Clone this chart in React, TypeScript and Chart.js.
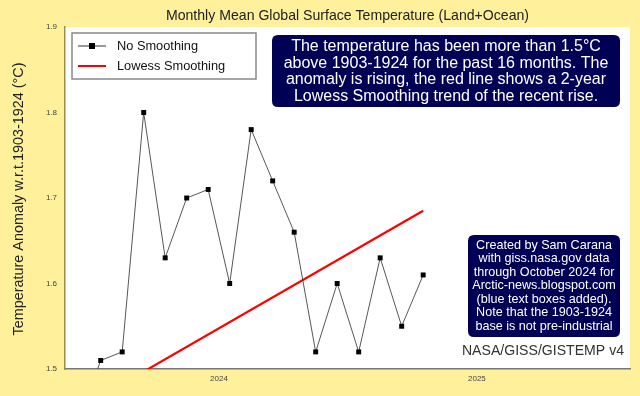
import React, { useEffect, useRef } from "react";
import { Chart, registerables } from "chart.js";

Chart.register(...registerables);

// months since Jan 1 2024 (mid-month positions), Jun 2023 .. Oct 2024
const months = ["2023-06", "2023-07", "2023-08", "2023-09", "2023-10", "2023-11", "2023-12", "2024-01", "2024-02", "2024-03", "2024-04", "2024-05", "2024-06", "2024-07", "2024-08", "2024-09", "2024-10"];
const monthPos = [-6.5, -5.5, -4.5, -3.5, -2.5, -1.5, -0.5, 0.5, 1.5, 2.5, 3.5, 4.5, 5.5, 6.5, 7.5, 8.5, 9.5];
const anomalies = [1.44, 1.51, 1.52, 1.80, 1.63, 1.70, 1.71, 1.60, 1.78, 1.72, 1.66, 1.52, 1.60, 1.52, 1.63, 1.55, 1.61];
const lowessPos = [-5.5, 9.5];
const lowessValues = [1.468, 1.685];
const yearTicks = [0, 12];
const yearLabels = ["2024", "2025"];

const titleText = "Monthly Mean Global Surface Temperature (Land+Ocean)";
const yTitle = "Temperature Anomaly w.r.t.1903-1924 (°C)";
const box1Lines = [
  "The temperature has been more than 1.5°C",
  "above 1903-1924 for the past 16 months. The",
  "anomaly is rising, the red line shows a 2-year",
  "Lowess Smoothing trend of the recent rise.",
];
const box2Lines = [
  "Created by Sam Carana",
  "with giss.nasa.gov data",
  "through October 2024 for",
  "Arctic-news.blogspot.com",
  "(blue text boxes added).",
  "Note that the 1903-1924",
  "base is not pre-industrial",
];
const sourceText = "NASA/GISS/GISTEMP v4";

const FONT = "'Liberation Sans', Arial, sans-serif";
const YELLOW = "#fff09c";
const NAVY = "#000055";

function roundRect(ctx: CanvasRenderingContext2D, x: number, y: number, w: number, h: number, r: number) {
  ctx.beginPath();
  ctx.moveTo(x + r, y);
  ctx.lineTo(x + w - r, y);
  ctx.quadraticCurveTo(x + w, y, x + w, y + r);
  ctx.lineTo(x + w, y + h - r);
  ctx.quadraticCurveTo(x + w, y + h, x + w - r, y + h);
  ctx.lineTo(x + r, y + h);
  ctx.quadraticCurveTo(x, y + h, x, y + h - r);
  ctx.lineTo(x, y + r);
  ctx.quadraticCurveTo(x, y, x + r, y);
  ctx.closePath();
}

const decorPlugin = {
  id: "decor",
  beforeDraw(chart: any) {
    const { ctx, chartArea } = chart;
    ctx.save();
    ctx.fillStyle = YELLOW;
    ctx.fillRect(0, 0, chart.width, chart.height);
    ctx.fillStyle = "#ffffff";
    ctx.fillRect(chartArea.left, chartArea.top, chartArea.right - chartArea.left, chartArea.bottom - chartArea.top);
    // title
    ctx.fillStyle = "#222222";
    ctx.font = `14.1px ${FONT}`;
    ctx.textAlign = "center";
    ctx.textBaseline = "middle";
    ctx.fillText(titleText, 347.5, 16);
    // y title
    ctx.save();
    ctx.translate(19.5, 199);
    ctx.rotate(-Math.PI / 2);
    ctx.font = `14.4px ${FONT}`;
    ctx.fillText(yTitle, 0, 0);
    ctx.restore();
    ctx.restore();
  },
  afterDraw(chart: any) {
    const { ctx } = chart;
    ctx.save();
    // legend
    ctx.fillStyle = "#ffffff";
    ctx.fillRect(72, 33, 184, 46);
    ctx.strokeStyle = "#888888";
    ctx.lineWidth = 1.5;
    ctx.strokeRect(72, 33, 184, 46);
    const ds = chart.data.datasets;
    ctx.font = `12.8px ${FONT}`;
    ctx.textAlign = "left";
    ctx.textBaseline = "middle";
    // row 1
    ctx.strokeStyle = "#333333";
    ctx.lineWidth = 1;
    ctx.beginPath();
    ctx.moveTo(78, 46);
    ctx.lineTo(106, 46);
    ctx.stroke();
    ctx.fillStyle = "#000000";
    ctx.fillRect(89, 43, 6, 6);
    ctx.fillStyle = "#111111";
    ctx.fillText(ds[0].label, 117, 46);
    // row 2
    ctx.strokeStyle = "#ff0000";
    ctx.lineWidth = 2;
    ctx.beginPath();
    ctx.moveTo(78, 66);
    ctx.lineTo(106, 66);
    ctx.stroke();
    ctx.fillText(ds[1].label, 117, 66);

    // box 1
    ctx.fillStyle = NAVY;
    roundRect(ctx, 272, 35, 348, 72, 6);
    ctx.fill();
    ctx.fillStyle = "#ffffff";
    ctx.font = `16px ${FONT}`;
    ctx.textAlign = "center";
    box1Lines.forEach((l, i) => ctx.fillText(l, 446, 47 + i * 16.4));

    // box 2
    ctx.fillStyle = NAVY;
    roundRect(ctx, 468, 235, 152, 102, 6);
    ctx.fill();
    ctx.fillStyle = "#ffffff";
    ctx.font = `12.6px ${FONT}`;
    box2Lines.forEach((l, i) => ctx.fillText(l, 544, 245.5 + i * 13.5));

    // source
    ctx.fillStyle = "#333333";
    ctx.font = `14.1px ${FONT}`;
    ctx.fillText(sourceText, 543, 351);
    ctx.restore();
  },
};

export default function App() {
  const ref = useRef<HTMLCanvasElement>(null);
  useEffect(() => {
    document.body.style.margin = "0";
    const c = new Chart(ref.current!, {
      type: "line",
      data: {
        datasets: [
          {
            label: "No Smoothing",
            data: monthPos.map((x, i) => ({ x, y: anomalies[i] })),
            borderColor: "#444444",
            borderWidth: 0.9,
            pointStyle: "rect",
            pointRadius: 3.5,
            pointBackgroundColor: "#000000",
            pointBorderColor: "#000000",
            pointBorderWidth: 0,
            tension: 0,
          },
          {
            label: "Lowess Smoothing",
            data: lowessPos.map((x, i) => ({ x, y: lowessValues[i] })),
            borderColor: "#ff0000",
            borderWidth: 2.2,
            pointRadius: 0,
            tension: 0,
          },
        ],
      },
      plugins: [decorPlugin],
      options: {
        animation: false,
        responsive: false,
        layout: { padding: { left: 0, right: 10, top: 27, bottom: 0 } },
        plugins: { legend: { display: false }, title: { display: false }, tooltip: { enabled: false } },
        scales: {
          x: {
            type: "linear",
            min: -7.16,
            max: 19.12,
            grid: { display: false, drawTicks: false },
            border: { display: true, color: "#777777", width: 1.5 },
            afterBuildTicks: (s: any) => {
              s.ticks = yearTicks.map((v) => ({ value: v }));
            },
            afterFit: (s: any) => {
              s.height = 27;
            },
            ticks: {
              callback: (v: any) => yearLabels[yearTicks.indexOf(Number(v))] ?? "",
              font: { size: 8, family: FONT },
              color: "#444444",
              padding: 5,
              maxRotation: 0,
              autoSkip: false,
            },
          },
          y: {
            min: 1.5,
            max: 1.9,
            grid: { display: false, drawTicks: false },
            border: { display: true, color: "#9c8f4a", width: 1.5 },
            afterFit: (s: any) => {
              s.width = 65;
            },
            ticks: {
              stepSize: 0.1,
              font: { size: 8, family: FONT },
              color: "#444444",
              padding: 8,
              callback: (v: any) => Number(v).toFixed(1),
            },
          },
        },
      },
    });
    return () => c.destroy();
  }, []);
  return (
    <div style={{ width: 640, height: 396 }}>
      <canvas ref={ref} width={640} height={396} />
    </div>
  );
}
